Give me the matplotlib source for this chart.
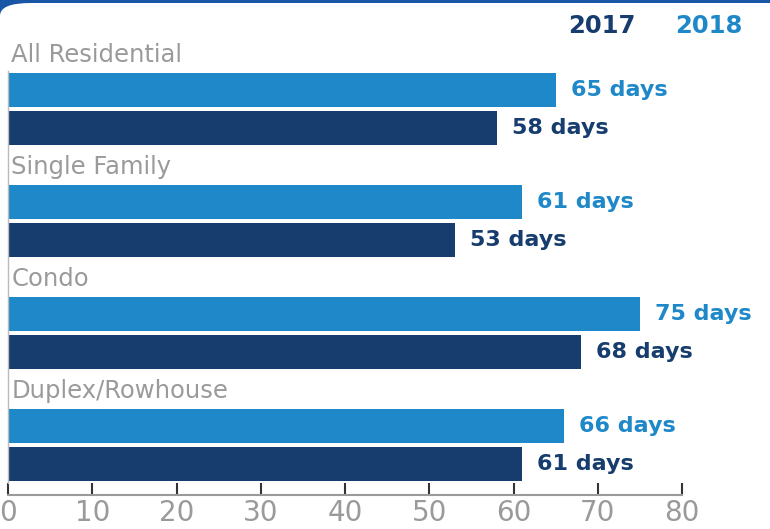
import matplotlib.pyplot as plt
import numpy as np
from matplotlib.patches import FancyBboxPatch

plt.rcParams['font.family'] = ['DejaVu Sans']

# Datos
categorias = ["All Residential", "Single Family", "Condo", "Duplex/Rowhouse"]
dias_2018 = [65, 61, 75, 66]
dias_2017 = [58, 53, 68, 61]
xticks = [0, 10, 20, 30, 40, 50, 60, 70, 80]

color_2018 = "#1e88c8"
color_2017 = "#173c6e"
color_gris = "#9a9a9a"

fig = plt.figure(figsize=(7.7, 5.29), dpi=100, facecolor="#1a56a6")

# Fondo blanco con la esquina superior izquierda redondeada
fondo = FancyBboxPatch((0.0, -0.5), 1.3, 1.5 - 3 / 529,
                       boxstyle="round,pad=0,rounding_size=0.04",
                       mutation_aspect=0.6, transform=fig.transFigure,
                       facecolor="white", edgecolor="none", clip_on=False, zorder=-5)
fig.patches.append(fondo)

ax = fig.add_axes([8 / 770, 34 / 529, 674 / 770, 442 / 529])
ax.patch.set_alpha(0)
y = np.arange(len(categorias))
alto = 0.304
ax.barh(y - 0.17, dias_2018, height=alto, color=color_2018)
ax.barh(y + 0.17, dias_2017, height=alto, color=color_2017)

for i, cat in enumerate(categorias):
    ax.text(0.4, i - 0.48, cat, color=color_gris, fontsize=17.5, va="center", ha="left", clip_on=False)
    ax.text(dias_2018[i] + 1.8, i - 0.17, f"{dias_2018[i]} days", color=color_2018,
            fontsize=16, fontweight="bold", va="center", ha="left")
    ax.text(dias_2017[i] + 1.8, i + 0.17, f"{dias_2017[i]} days", color=color_2017,
            fontsize=16, fontweight="bold", va="center", ha="left")

fig.text(602 / 770, 1 - 26 / 529, "2017", color=color_2017, fontsize=17.5, fontweight="bold", ha="center", va="center")
fig.text(709 / 770, 1 - 26 / 529, "2018", color=color_2018, fontsize=17.5, fontweight="bold", ha="center", va="center")

ax.set_xlim(0, 80)
ax.set_ylim(3.446, -0.5)
ax.set_xticks(xticks)
ax.set_yticks([])
ax.tick_params(axis="x", direction="in", length=9, width=1.5, color="#333333",
               labelcolor=color_gris, labelsize=20, pad=3)
for lado in ["top", "right"]:
    ax.spines[lado].set_visible(False)
ax.spines["bottom"].set_color(color_gris)
ax.spines["bottom"].set_linewidth(1.5)
ax.spines["left"].set_color("#bbbbbb")
ax.spines["left"].set_linewidth(1)
ax.spines["left"].set_bounds(-0.34, 3.34)

fig.savefig("out.png", dpi=100, facecolor=fig.get_facecolor())
